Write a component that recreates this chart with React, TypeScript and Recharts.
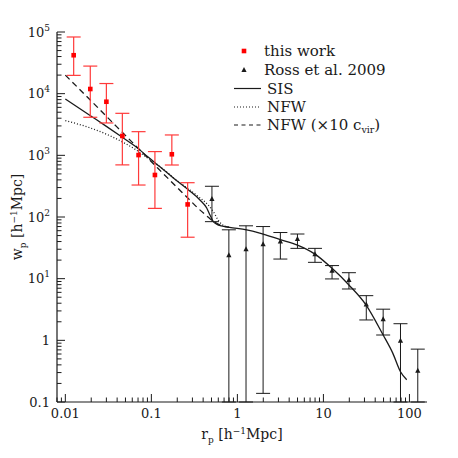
import { ComposedChart, Line, Scatter, ErrorBar, XAxis, YAxis, Legend } from 'recharts';

const FONT = '"DejaVu Serif", serif';
const INK = '#1a1a1a';
const RED = '#ff0000';

// this work (red squares)
const rpWork = [0.0125, 0.0195, 0.03, 0.046, 0.071, 0.11, 0.173, 0.264];
const wpWork = [42000, 11900, 7400, 2060, 1010, 480, 1040, 160];
const wpWorkHi = [83000, 28000, 14600, 4800, 2420, 1150, 2140, 360];
const wpWorkLo = [19800, 4140, 3350, 700, 330, 138, 697, 47];

// Ross et al. 2009 (black triangles)
const rpRoss = [0.506, 0.796, 1.26, 1.99, 3.16, 4.99, 7.98, 12.6, 19.8, 31.5, 49.5, 78.7, 125];
const wpRoss = [195, 24, 30, 36, 40, 44, 25, 13.5, 9.5, 3.8, 2.2, 0.98, 0.32];
const wpRossHi = [315, 62, 72, 70, 56, 53, 31, 16.3, 12.5, 5.3, 3.2, 1.86, 0.72];
const wpRossLo = [84, 0.1, 0.1, 0.138, 20.8, 31, 18.4, 9.9, 6.8, 2.14, 1.22, 0.1, 0.1];

// model curves
const rpSis = [0.01, 0.02, 0.03, 0.045, 0.065, 0.09, 0.11, 0.18, 0.27, 0.367, 0.44, 0.48, 0.525, 0.58, 0.65, 0.81, 1.28, 1.82, 3.16, 5, 7.98, 12.6, 19.8, 31.5, 49.5, 64, 78.7, 93];
const wpSis = [8200, 4300, 2950, 2000, 1400, 960, 760, 430, 275, 189, 140, 108, 84, 76, 72, 68, 62, 55, 43, 35, 25, 14.7, 7.9, 3.7, 1.22, 0.62, 0.31, 0.23];

const rpNfw = [0.01, 0.02, 0.035, 0.05, 0.065, 0.08, 0.1, 0.15, 0.2, 0.27, 0.35, 0.44, 0.5, 0.55, 0.6, 0.66, 0.8];
const wpNfw = [3650, 2750, 2000, 1550, 1250, 1020, 830, 540, 385, 285, 215, 165, 135, 110, 88, 76, 68];

const rpNfw10 = [0.01, 0.02, 0.04, 0.07, 0.12, 0.2, 0.28, 0.35, 0.42, 0.48, 0.55, 0.63, 0.8];
const wpNfw10 = [20000, 7600, 2870, 1310, 610, 300, 188, 138, 110, 94, 82, 74, 68];

const xMajor = [0.01, 0.1, 1, 10, 100];
const yMajor = [0.1, 1, 10, 100, 1000, 10000, 100000];
const xDomain = [0.008, 160];
const yDomain = [0.1, 100000];

const legendItems = ['this work', 'Ross et al. 2009', 'SIS', 'NFW', 'NFW (\u00d710 c'];

const withMinor = (majors: number[], lo: number, hi: number) => {
  const out: number[] = [];
  for (const m of [majors[0] / 10, ...majors]) {
    for (let k = 1; k <= 9; k++) {
      const v = +(m * k).toPrecision(6);
      if (v >= lo - 1e-9 && v <= hi + 1e-9) out.push(v);
    }
  }
  return out;
};
const xTicks = withMinor(xMajor, xDomain[0], xDomain[1]);
const yTicks = withMinor(yMajor, yDomain[0], yDomain[1]);

const isMajor = (v: number) => {
  const l = Math.log10(v);
  return Math.abs(l - Math.round(l)) < 1e-6;
};

const workData = rpWork.map((r, i) => ({ r, w: wpWork[i], err: [wpWork[i] - wpWorkLo[i], wpWorkHi[i] - wpWork[i]] }));
const rossData = rpRoss.map((r, i) => ({ r, w: wpRoss[i], err: [wpRoss[i] - wpRossLo[i], wpRossHi[i] - wpRoss[i]] }));
const sisData = rpSis.map((r, i) => ({ r, w: wpSis[i] }));
const nfwData = rpNfw.map((r, i) => ({ r, w: wpNfw[i] }));
const nfw10Data = rpNfw10.map((r, i) => ({ r, w: wpNfw10[i] }));

const MAJ = 8;
const MIN = 4.5;

function BottomTick({ x, y, payload }: any) {
  const major = isMajor(payload.value);
  return (
    <g>
      <line x1={x} x2={x} y1={y} y2={y - (major ? MAJ : MIN)} stroke={INK} />
      {major && (
        <text x={x} y={y + 16} textAnchor="middle" fontSize={13} fontFamily={FONT} fill={INK}>
          {String(payload.value)}
        </text>
      )}
    </g>
  );
}

function TopTick({ x, y, payload }: any) {
  const major = isMajor(payload.value);
  return <line x1={x} x2={x} y1={y} y2={y + (major ? MAJ : MIN)} stroke={INK} />;
}

function LeftTick({ x, y, payload }: any) {
  const v = payload.value;
  const major = isMajor(v);
  const exp = Math.round(Math.log10(v));
  return (
    <g>
      <line x1={x} x2={x + (major ? MAJ : MIN)} y1={y} y2={y} stroke={INK} />
      {major && (
        <text x={x - 7} y={y + 4.5} textAnchor="end" fontSize={13} fontFamily={FONT} fill={INK}>
          {exp >= 1 ? (
            <>
              <tspan>10</tspan>
              <tspan dy={-6} fontSize={9}>{exp}</tspan>
            </>
          ) : (
            String(v)
          )}
        </text>
      )}
    </g>
  );
}

function RightTick({ x, y, payload }: any) {
  const major = isMajor(payload.value);
  return <line x1={x} x2={x - (major ? MAJ : MIN)} y1={y} y2={y} stroke={INK} />;
}

function XTitle({ viewBox }: any) {
  const cx = viewBox.x + viewBox.width / 2;
  return (
    <text x={cx} y={viewBox.y + 37} textAnchor="middle" fontSize={14} fontFamily={FONT} fill={INK}>
      <tspan>r</tspan>
      <tspan dy={4} fontSize={9}>p</tspan>
      <tspan dy={-4}> [h</tspan>
      <tspan dy={-5} fontSize={9}>{'\u2212'}1</tspan>
      <tspan dy={5}>Mpc]</tspan>
    </text>
  );
}

function YTitle({ viewBox }: any) {
  const cx = viewBox.x + 14;
  const cy = viewBox.y + viewBox.height / 2;
  return (
    <text x={cx} y={cy} transform={`rotate(-90, ${cx}, ${cy})`} textAnchor="middle" fontSize={14} fontFamily={FONT} fill={INK}>
      <tspan>w</tspan>
      <tspan dy={4} fontSize={9}>p</tspan>
      <tspan dy={-4}> [h</tspan>
      <tspan dy={-5} fontSize={9}>{'\u2212'}1</tspan>
      <tspan dy={5}>Mpc]</tspan>
    </text>
  );
}

const Square = ({ cx, cy }: any) => <rect x={cx - 2.3} y={cy - 2.3} width={4.6} height={4.6} fill={RED} />;
const Triangle = ({ cx, cy }: any) => (
  <path d={`M${cx},${cy - 3} L${cx + 2.6},${cy + 2} L${cx - 2.6},${cy + 2} Z`} fill={INK} />
);

function ChartLegend() {
  const rowY = [10, 29, 47.5, 66, 84];
  const textX = [38, 38, 41, 41, 41];
  return (
    <svg width={220} height={100} style={{ overflow: 'visible' }}>
      <Square cx={18} cy={rowY[0]} />
      <Triangle cx={18} cy={rowY[1]} />
      <line x1={8} x2={35} y1={rowY[2]} y2={rowY[2]} stroke={INK} strokeWidth={1.2} />
      <line x1={8} x2={35} y1={rowY[3]} y2={rowY[3]} stroke={INK} strokeWidth={1.2} strokeDasharray="1 2" />
      <line x1={8} x2={35} y1={rowY[4]} y2={rowY[4]} stroke={INK} strokeWidth={1.2} strokeDasharray="4 3.5" />
      {legendItems.map((t, i) => (
        <text key={t} x={textX[i]} y={rowY[i] + 5} fontSize={15} fontFamily={FONT} fill={INK}>
          {t}
          {i === 4 && (
            <>
              <tspan dy={3} fontSize={9.5}>vir</tspan>
              <tspan dy={-3}>)</tspan>
            </>
          )}
        </text>
      ))}
    </svg>
  );
}

export default function App() {
  return (
    <ComposedChart width={450} height={450} margin={{ top: 24, right: 31, bottom: 6, left: 0 }}>
      <XAxis
        xAxisId={0}
        dataKey="r"
        type="number"
        scale="log"
        domain={xDomain}
        allowDataOverflow
        ticks={xTicks}
        interval={0}
        tickSize={0}
        tickMargin={0}
        height={50}
        tick={<BottomTick />}
        axisLine={{ stroke: INK, strokeWidth: 1.2 }}
        label={{ content: (p: any) => <XTitle viewBox={p.viewBox} /> }}
      />
      <XAxis
        xAxisId="top"
        orientation="top"
        dataKey="r"
        type="number"
        scale="log"
        domain={xDomain}
        allowDataOverflow
        ticks={xTicks}
        interval={0}
        tickSize={0}
        tickMargin={0}
        height={0}
        tick={<TopTick />}
        axisLine={{ stroke: INK, strokeWidth: 1.2 }}
      />
      <YAxis
        yAxisId={0}
        type="number"
        scale="log"
        domain={yDomain}
        allowDataOverflow
        ticks={yTicks}
        interval={0}
        tickSize={0}
        tickMargin={0}
        width={49}
        tick={<LeftTick />}
        axisLine={{ stroke: INK, strokeWidth: 1.2 }}
        label={{ content: (p: any) => <YTitle viewBox={p.viewBox} /> }}
      />
      <YAxis
        yAxisId="right"
        orientation="right"
        type="number"
        scale="log"
        domain={yDomain}
        allowDataOverflow
        ticks={yTicks}
        interval={0}
        tickSize={0}
        tickMargin={0}
        width={0}
        tick={<RightTick />}
        axisLine={{ stroke: INK, strokeWidth: 1.2 }}
      />
      <Line data={sisData} dataKey="w" type="monotone" stroke={INK} strokeWidth={1.3} dot={false} isAnimationActive={false} />
      <Line data={nfwData} dataKey="w" type="monotone" stroke={INK} strokeWidth={1.3} strokeDasharray="1 2" dot={false} isAnimationActive={false} />
      <Line data={nfw10Data} dataKey="w" type="monotone" stroke={INK} strokeWidth={1.3} strokeDasharray="6 4" dot={false} isAnimationActive={false} />
      <Scatter data={workData} dataKey="w" shape={<Square />} isAnimationActive={false}>
        <ErrorBar dataKey="err" direction="y" width={7} stroke="#ff3a3a" strokeWidth={1.2} />
      </Scatter>
      <Scatter data={rossData} dataKey="w" shape={<Triangle />} isAnimationActive={false}>
        <ErrorBar dataKey="err" direction="y" width={7} stroke={INK} strokeWidth={1} />
      </Scatter>
      <Legend
        layout="vertical"
        align="center"
        verticalAlign="middle"
        wrapperStyle={{ left: 218, top: 33, width: 220 }}
        content={() => <ChartLegend />}
      />
    </ComposedChart>
  );
}
